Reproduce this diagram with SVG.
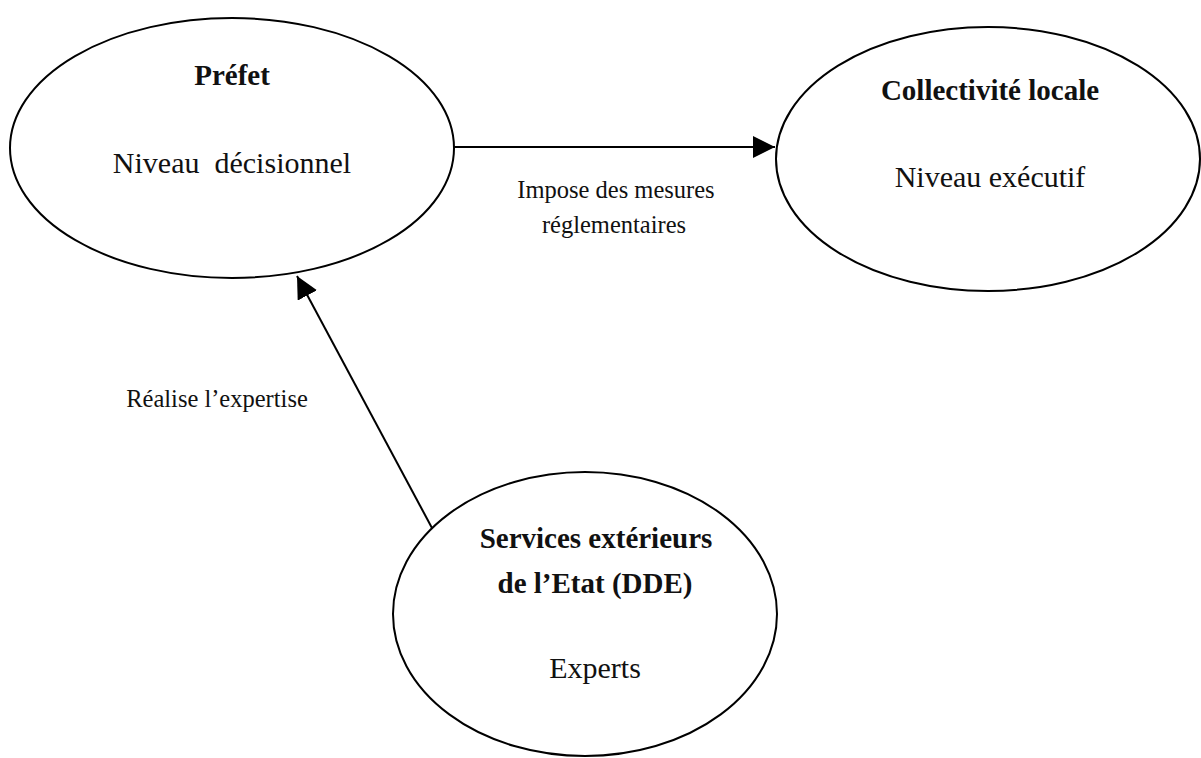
<svg xmlns="http://www.w3.org/2000/svg" width="1201" height="758" viewBox="0 0 1201 758">
<style>
.node{fill:#fff;stroke:#000;stroke-width:2}
.t{font-family:"Liberation Serif","Times New Roman",serif;fill:#111;text-anchor:middle}
.b{font-weight:bold;font-size:29px}
.r{font-size:30px}
.l{font-size:24.5px}
.c{stroke:#000;stroke-width:2;fill:none}
</style>
<defs>
<marker id="ah" markerUnits="userSpaceOnUse" markerWidth="22" markerHeight="22" viewBox="0 0 20 20" refX="20" refY="10" orient="auto">
<path d="M0,0 L20,10 L0,20 Z" fill="#000"/>
</marker>
</defs>
<rect width="1201" height="758" fill="#fff"/>
<g id="prefet">
<ellipse class="node" cx="232" cy="148" rx="222" ry="130"/>
<text class="t b" x="232" y="85">Préfet</text>
<text class="t r" x="232" y="173" xml:space="preserve">Niveau  décisionnel</text>
</g>
<g id="collectivite">
<ellipse class="node" cx="988" cy="159" rx="212" ry="132"/>
<text class="t b" x="990" y="100">Collectivité locale</text>
<text class="t r" x="990" y="187">Niveau exécutif</text>
</g>
<g id="dde">
<ellipse class="node" cx="585" cy="614" rx="192" ry="142"/>
<text class="t b" x="596" y="548">Services extérieurs</text>
<text class="t b" x="595" y="593">de l’Etat (DDE)</text>
<text class="t r" x="595" y="678">Experts</text>
</g>
<g id="connectors">
<line class="c" x1="454" y1="147" x2="775" y2="147" marker-end="url(#ah)"/>
<line class="c" x1="432" y1="528" x2="297" y2="276" marker-end="url(#ah)"/>
<text class="t l" x="616" y="198">Impose des mesures</text>
<text class="t l" x="614" y="233">réglementaires</text>
<text class="t l" x="217" y="407">Réalise l’expertise</text>
</g>
</svg>
